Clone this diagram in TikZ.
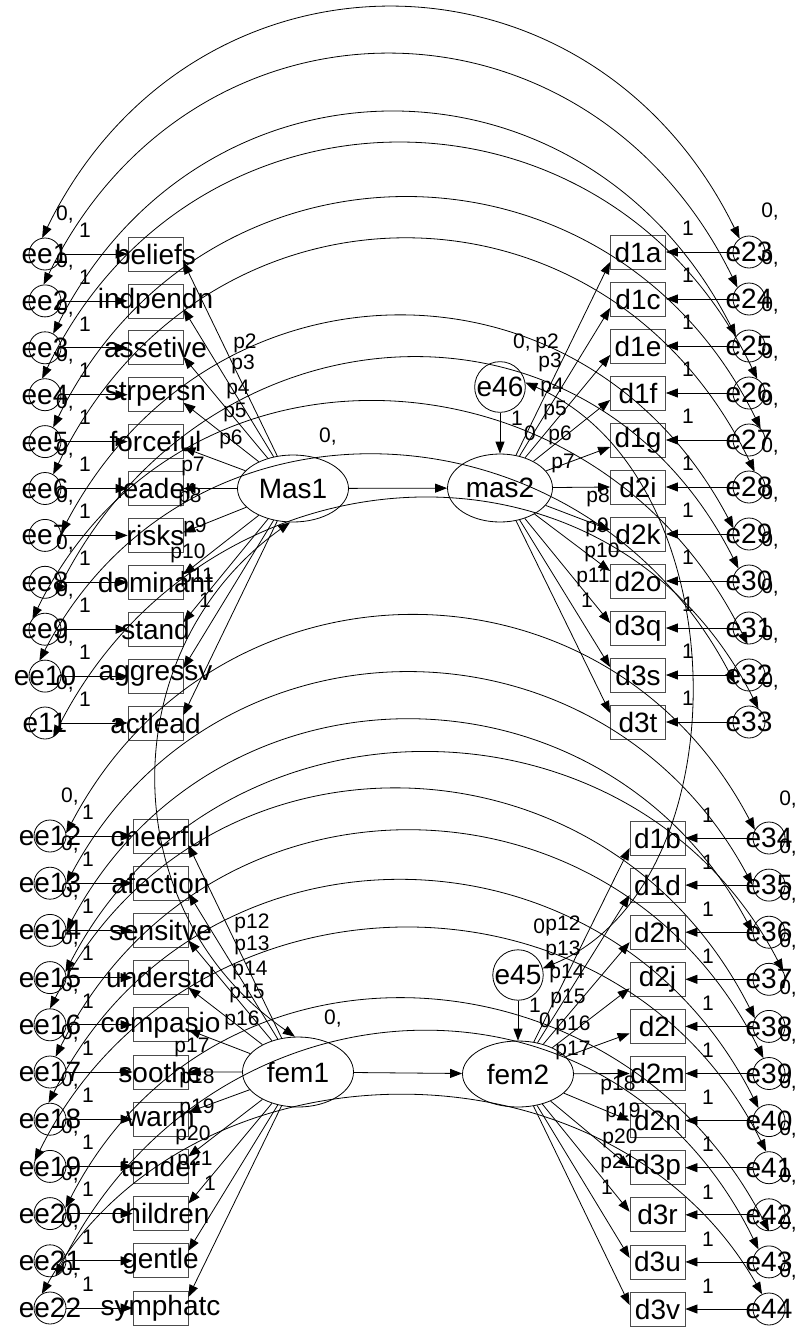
\documentclass[tikz,border=0pt]{standalone}
\usepackage{fontspec}
\setmainfont{Liberation Sans}
\usetikzlibrary{arrows.meta,shapes.geometric}
\newcommand\fbig{\fontsize{28}{28}\selectfont}
\newcommand\fsml{\fontsize{21}{21}\selectfont}
\begin{document}
\begin{tikzpicture}[x=1pt,y=-1pt,line width=0.8pt,
  >={Triangle[length=12pt,width=9pt]},
  obs/.style={draw=black!70,rectangle,minimum width=55pt,minimum height=34pt,inner sep=0pt,font=\fbig},
  err/.style={draw,circle,minimum size=32pt,inner sep=0pt,font=\fbig},
  lat/.style={draw,ellipse,inner sep=0pt,font=\fbig},
  lab/.style={font=\fsml,inner sep=0pt},
  reg/.style={->},
  cov/.style={<->}]
\useasboundingbox (0,0) rectangle (800,1330);

% ---------- upper left
\foreach \i/\t/\b in {1/ee1/beliefs,2/ee2/indpendn,3/ee3/assetive,4/ee4/strpersn,5/ee5/forceful,6/ee6/leader,7/ee7/risks,8/ee8/dominant,9/ee9/stand,10/ee10/aggressv,11/e11/actlead}{
  \pgfmathsetmacro\yy{254+46.9*(\i-1)}
  \node[err] (L\i) at (45,\yy) {\makebox[0pt]{\t}};
  \node[obs] (BL\i) at (155.5,\yy) {\makebox[0pt]{\b}};
  \draw[reg] (L\i) -- (BL\i);
  \node[lab] (zL\i) at (65,\yy-39) {0,};
  \node[lab] (oL\i) at (85,\yy-24) {1};
}
% ---------- upper right
\foreach \i/\t/\b in {1/e23/d1a,2/e24/d1c,3/e25/d1e,4/e26/d1f,5/e27/d1g,6/e28/d2i,7/e29/d2k,8/e30/d2o,9/e31/d3q,10/e32/d3s,11/e33/d3t}{
  \pgfmathsetmacro\yy{252+47*(\i-1)}
  \node[err] (R\i) at (749,\yy) {\makebox[0pt]{\t}};
  \node[obs] (BR\i) at (638,\yy) {\makebox[0pt]{\b}};
  \draw[reg] (R\i) -- (BR\i);
  \node[lab] (zR\i) at (770,\yy-40) {0,};
  \node[lab] (oR\i) at (688,\yy-24) {1};
}
% ---------- lower left
\foreach \i/\t/\b in {1/ee12/cheerful,2/ee13/afection,3/ee14/sensitve,4/ee15/understd,5/ee16/compasio,6/ee17/soothe,7/ee18/warm,8/ee19/tender,9/ee20/children,10/ee21/gentle,11/ee22/symphatc}{
  \pgfmathsetmacro\yy{836+47.2*(\i-1)}
  \node[err] (LL\i) at (50,\yy) {\makebox[0pt]{\t}};
  \node[obs] (BLL\i) at (160.5,\yy) {\makebox[0pt]{\b}};
  \draw[reg] (LL\i) -- (BLL\i);
  \node[lab] (zLL\i) at (70,\yy-39) {0,};
  \node[lab] (oLL\i) at (88,\yy-24) {1};
}
% ---------- lower right
\foreach \i/\t/\b in {1/e34/d1b,2/e35/d1d,3/e36/d2h,4/e37/d2j,5/e38/d2l,6/e39/d2m,7/e40/d2n,8/e41/d3p,9/e42/d3r,10/e43/d3u,11/e44/d3v}{
  \pgfmathsetmacro\yy{838+47.1*(\i-1)}
  \node[err] (RL\i) at (769,\yy) {\makebox[0pt]{\t}};
  \node[obs] (BRL\i) at (657.5,\yy) {\makebox[0pt]{\b}};
  \draw[reg] (RL\i) -- (BRL\i);
  \node[lab] (zRL\i) at (788,\yy-38) {0,};
  \node[lab] (oRL\i) at (708,\yy-23) {1};
}

% ---------- latent variables
\node[lat,minimum width=111pt,minimum height=67pt] (Mas1) at (293,488.5) {Mas1};
\node[lat,minimum width=105pt,minimum height=68pt] (mas2) at (500,488) {mas2};
\node[lat,minimum width=111pt,minimum height=70pt] (fem1) at (298,1072) {fem1};
\node[lat,minimum width=111pt,minimum height=66pt] (fem2) at (518,1074) {fem2};
\node[err,minimum size=46pt] (e46) at (500,387) {e46};
\node[err,minimum size=46pt] (e45) at (518,975) {e45};

\draw[reg] (Mas1) -- (mas2);
\draw[reg] (fem1) -- (fem2);
\draw[reg] (e46) -- (mas2);
\draw[reg] (e45) -- (fem2);

% ---------- loadings
\foreach \i/\o in {1/-8pt,2/-8pt,3/-9pt,4/-8pt,5/-6pt,6/0pt,7/3pt,8/8pt,9/7pt,10/8pt,11/8pt}
  \draw[reg] (Mas1) -- ([yshift=\o]BL\i.east);
\foreach \i/\o in {1/-10pt,2/-9pt,3/-9pt,4/-7pt,5/-7pt,6/0pt,7/4pt,8/10pt,9/5pt,10/8pt,11/9pt}
  \draw[reg] (mas2) -- ([yshift=\o]BR\i.west);
\foreach \i/\o in {1/-9pt,2/-10pt,3/-10pt,4/-10pt,5/-5pt,6/0pt,7/7pt,8/10pt,9/10pt,10/10pt,11/11pt}
  \draw[reg] (fem1) -- ([yshift=\o]BLL\i.east);
\foreach \i/\o in {1/-10pt,2/-10pt,3/-10pt,4/-9pt,5/-7pt,6/0pt,7/0pt,8/1pt,9/3pt,10/4pt,11/4pt}
  \draw[reg] (fem2) -- ([yshift=\o]BRL\i.west);

% ---------- covariances between error terms
\foreach \i/\a/\b/\d in {1/100/125/306,2/95/135/307,3/60/143/295,4/100/60/312,5/60/45/305,6/60/70/310,7/10/160/284,8/310/130/296,9/140/265/304,10/110/210/287,11/300/55/297}
  \draw[cov] (L\i.\a) .. controls +(150,-\d) and +(-150,-\d) .. (R\i.\b);
\foreach \i/\a/\b/\d in {1/10/150/286,2/0/180/280,3/0/180/280,4/20/30/290,5/90/150/297,6/70/110/300,7/95/130/298,8/160/100/302,9/20/270/292,10/290/130/306,11/120/115/263}
  \draw[cov] (LL\i.\a) .. controls +(150,-\d) and +(-150,-\d) .. (RL\i.\b);

\draw[cov] (Mas1.265) .. controls (112,650) and (112,910) .. (fem1.95);
\draw[cov] (e46.10) .. controls (740,475) and (745,885) .. (e45.15);

% ---------- parameter labels
\foreach \n/\t/\x/\y in {a2/p2/245/343,a3/p3/243/364,a4/p4/238/389,a5/p5/235/412,a6/p6/231/439,a7/p7/193/466,a8/p8/190/497,a9/p9/195/527,a10/p10/188/553,a11/p11/197/577,a12/1/205/600,
  b2/p2/547/343,b3/p3/550/362,b4/p4/552/387,b5/p5/555/410,b6/p6/560/435,b7/p7/563/463,b8/p8/598/497,b9/p9/597/527,b10/p10/602/552,b11/p11/593/577,b12/1/587/600,
  c2/p12/252/923,c3/p13/252/945,c4/p14/250/970,c5/p15/247/993,c6/p16/242/1020,c7/p17/192/1047,c8/p18/197/1078,c9/p19/197/1108,c10/p20/193/1135,c11/p21/195/1160,c12/1/210/1183,
  d2/p12/563/925,d3/p13/563/950,d4/p14/567/973,d5/p15/568/998,d6/p16/573/1025,d7/p17/573/1050,d8/p18/618/1085,d9/p19/623/1112,d10/p20/620/1138,d11/p21/618/1163,d12/1/607/1187,
  m1/1/517/418,m2/0/530/433,f1/1/535/1005,f2/0/545/1020}
  \node[lab] (\n) at (\x,\y) {\t};
\node[lab] (vMas1) at (328,437) {0,};
\node[lab] (vfem1) at (333,1018) {0,};
\node[lab] (ve46) at (522,343) {0,};
\node[lab] (ve45) at (542,927) {0,};
\end{tikzpicture}
\end{document}
